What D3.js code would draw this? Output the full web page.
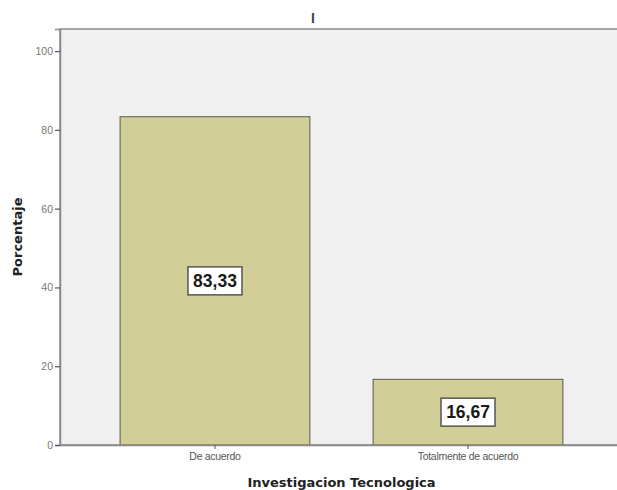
<!DOCTYPE html>
<html>
<head>
<meta charset="utf-8">
<script src="https://cdn.jsdelivr.net/npm/d3@7"></script>
<style>
  body { margin: 0; background: #fff; }
  svg { display: block; }
</style>
</head>
<body>
<div id="chart"></div>
<script>
var categories = ["De acuerdo", "Totalmente de acuerdo"];
var values = [83.33, 16.67];
var valueLabels = ["83,33", "16,67"];
var yTicks = [0, 20, 40, 60, 80, 100];

var margin = { top: 29, right: -6, bottom: 45, left: 60 };
var width = 617, height = 490;
var innerW = width - margin.left - margin.right;
var innerH = height - margin.top - margin.bottom;

var svg = d3.select("#chart").append("svg")
    .attr("width", width)
    .attr("height", height);

var g = svg.append("g")
    .attr("transform", "translate(" + margin.left + "," + margin.top + ")");

var x = d3.scaleBand()
    .domain(categories)
    .range([0, innerW])
    .paddingInner(0.25)
    .paddingOuter(0.2375);

var y = d3.scaleLinear()
    .domain([0, 105.6])
    .range([innerH, 0]);

// plot background
g.append("rect")
    .attr("x", 0).attr("y", 0)
    .attr("width", innerW).attr("height", innerH)
    .attr("fill", "#f0f0f0")
    .attr("stroke", "#8a8a8a")
    .attr("stroke-width", 1.5);

// bars
var data = categories.map(function(c, i) {
    return { label: c, value: values[i], text: valueLabels[i] };
});

g.selectAll(".bar")
    .data(data).enter().append("rect")
    .attr("class", "bar")
    .attr("x", function(d) { return x(d.label); })
    .attr("y", function(d) { return y(d.value); })
    .attr("width", x.bandwidth())
    .attr("height", function(d) { return innerH - y(d.value); })
    .attr("fill", "#d2ce98")
    .attr("stroke", "#5a5a4a")
    .attr("stroke-width", 1);

// value labels
var lbl = g.selectAll(".val")
    .data(data).enter().append("g")
    .attr("class", "val")
    .attr("transform", function(d) {
        var cx = x(d.label) + x.bandwidth() / 2;
        var cy = (y(d.value) + innerH) / 2;
        return "translate(" + cx + "," + cy + ")";
    });

lbl.append("rect")
    .attr("x", -27).attr("y", -14)
    .attr("width", 54).attr("height", 28)
    .attr("fill", "#ffffff")
    .attr("stroke", "#555555")
    .attr("stroke-width", 1.5);

lbl.append("text")
    .attr("text-anchor", "middle")
    .attr("dy", "0.36em")
    .attr("font-family", "Arial, 'Liberation Sans', sans-serif")
    .attr("font-weight", "bold")
    .attr("font-size", 17.5)
    .attr("fill", "#1a1a1a")
    .text(function(d) { return d.text; });

// y axis
var yAxis = g.append("g")
    .call(d3.axisLeft(y).tickValues(yTicks).tickSize(5).tickPadding(2));
yAxis.select(".domain").attr("stroke", "#8a8a8a").attr("stroke-width", 1.5);
yAxis.selectAll(".tick line").attr("stroke", "#555").attr("stroke-width", 1.2);
yAxis.selectAll(".tick text")
    .attr("font-family", "Arial, 'Liberation Sans', sans-serif")
    .attr("font-size", 10.5)
    .attr("fill", "#777");

// x axis
var xAxis = g.append("g")
    .attr("transform", "translate(0," + innerH + ")")
    .call(d3.axisBottom(x).tickSize(4).tickPadding(4).tickSizeOuter(0));
xAxis.select(".domain").attr("stroke", "#8a8a8a").attr("stroke-width", 1.5);
xAxis.selectAll(".tick line").attr("stroke", "#555");
xAxis.selectAll(".tick text")
    .attr("font-family", "Arial, 'Liberation Sans', sans-serif")
    .attr("font-size", 10.5)
    .attr("letter-spacing", "-0.3")
    .attr("fill", "#555");

// axis titles
svg.append("text")
    .attr("x", margin.left + innerW / 2)
    .attr("y", 487)
    .attr("text-anchor", "middle")
    .attr("font-family", "Verdana, 'DejaVu Sans', sans-serif")
    .attr("font-weight", "bold")
    .attr("font-size", 13)
    .attr("fill", "#222")
    .text("Investigacion Tecnologica");

svg.append("text")
    .attr("transform", "translate(22," + (margin.top + innerH / 2) + ") rotate(-90)")
    .attr("text-anchor", "middle")
    .attr("font-family", "Verdana, 'DejaVu Sans', sans-serif")
    .attr("font-weight", "bold")
    .attr("font-size", 13)
    .attr("fill", "#222")
    .text("Porcentaje");

// title (cropped)
svg.append("text")
    .attr("x", 313)
    .attr("y", 23)
    .attr("text-anchor", "middle")
    .attr("font-family", "Arial, 'Liberation Sans', sans-serif")
    .attr("font-weight", "bold")
    .attr("font-size", 14)
    .attr("fill", "#444")
    .text("I");
</script>
</body>
</html>
